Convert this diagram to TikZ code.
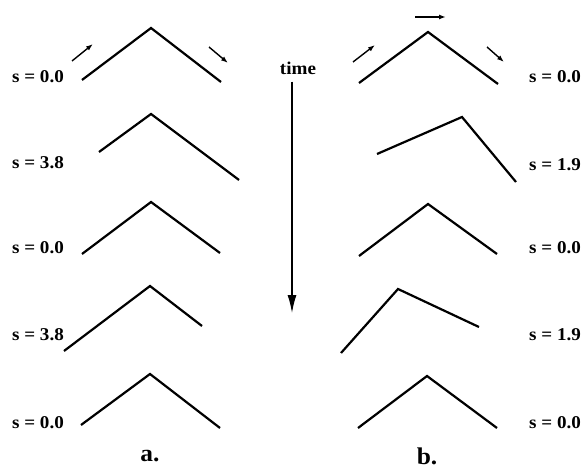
\documentclass[tikz,border=0pt]{standalone}
\usepackage{fontspec}
\setmainfont{Liberation Serif}[FakeStretch=1.06]
\usetikzlibrary{arrows.meta}
\begin{document}
\begin{tikzpicture}[x=1pt,y=-1pt,
  shape line/.style={line width=2.2pt,line join=miter},
  lab/.style={font=\fontsize{18}{18}\selectfont\bfseries,inner sep=0pt},
  captext/.style={font=\fontsize{24}{24}\selectfont\bfseries,inner sep=0pt},
  motion/.style={line width=1.4pt,-{Latex[length=7pt,width=5pt]}},
  timearrow/.style={line width=1.4pt,-{Latex[length=18pt,width=9pt]}}]
\useasboundingbox (0,0) rectangle (585,470);
% left column labels
\node[lab] (la1) at (38,77) {s = 0.0};
\node[lab] (la2) at (38,163) {s = 3.8};
\node[lab] (la3) at (38,248) {s = 0.0};
\node[lab] (la4) at (38,335) {s = 3.8};
\node[lab] (la5) at (38,423) {s = 0.0};
% right column labels
\node[lab] (lb1) at (555,77) {s = 0.0};
\node[lab] (lb2) at (555,165) {s = 1.9};
\node[lab] (lb3) at (555,248) {s = 0.0};
\node[lab] (lb4) at (555,335) {s = 1.9};
\node[lab] (lb5) at (555,423) {s = 0.0};
% captions
\node[captext] (ca) at (150,456) {a.};
\node[captext] (cb) at (427,456) {b.};
% shapes, column a
\draw[shape line] (82,80) -- (151,28) -- (221,82);
\draw[shape line] (99,152) -- (151,114) -- (239,180);
\draw[shape line] (82,254) -- (151,202) -- (220,253);
\draw[shape line] (64,351) -- (150,286) -- (202,326);
\draw[shape line] (81,425) -- (150,374) -- (220,428);
% shapes, column b
\draw[shape line] (359,83) -- (428,32) -- (498,84);
\draw[shape line] (377,154) -- (462,117) -- (516,182);
\draw[shape line] (359,256) -- (428,204) -- (497,254);
\draw[shape line] (341,353) -- (398,289) -- (479,327);
\draw[shape line] (358,428) -- (427,376) -- (497,428);
% motion arrows
\draw[motion] (72,61) -- (93,44);
\draw[motion] (209,47) -- (228,63);
\draw[motion] (353,62) -- (375,45);
\draw[motion] (487,47) -- (504,62);
\draw[motion] (415,17) -- (446,17);
% time
\node[lab] (time) at (298,68) {time};
\coordinate (tend) at (292,313);
\draw[timearrow] ([yshift=-7pt]time.south -| tend) -- (tend);
\end{tikzpicture}
\end{document}
